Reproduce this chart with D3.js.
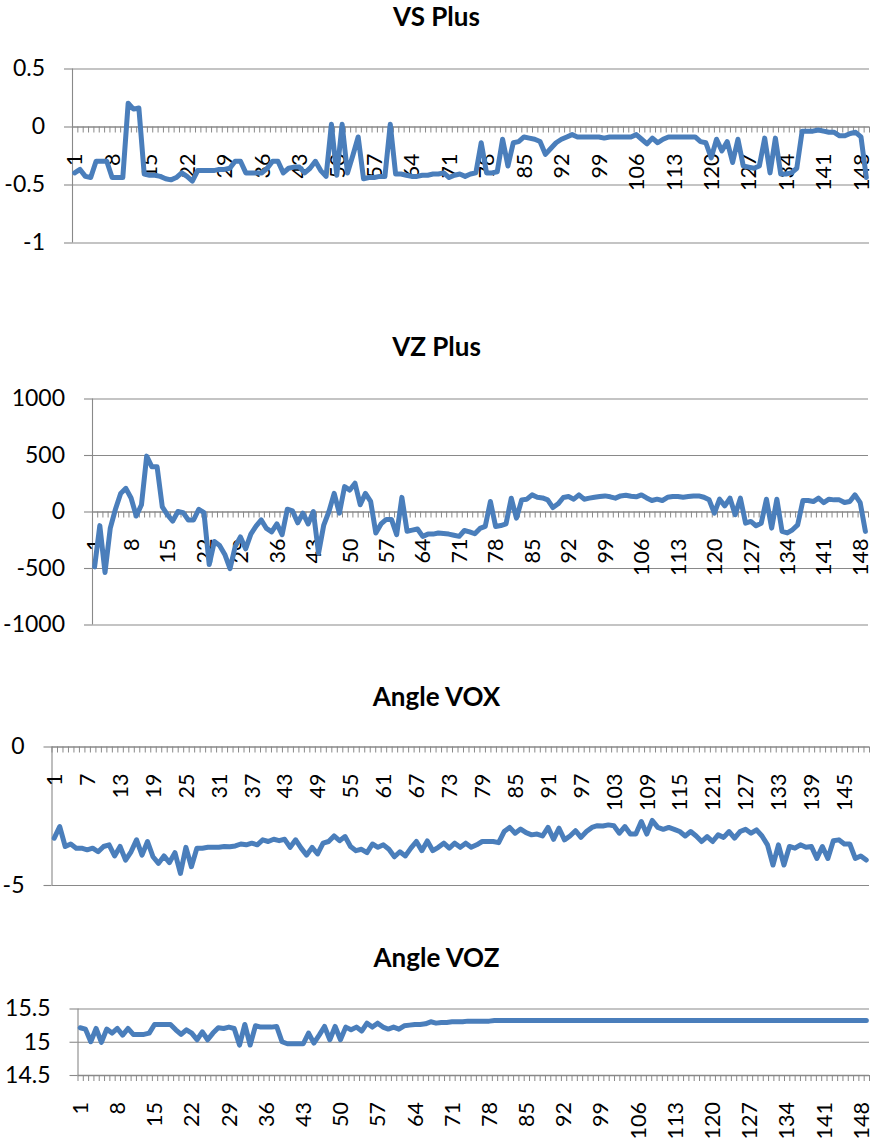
<!DOCTYPE html>
<html><head><meta charset="utf-8">
<script src="https://cdn.jsdelivr.net/npm/d3@7/dist/d3.min.js"></script>
<style>
body{margin:0;background:#fff;}
svg{display:block;}
text{font-family:Lato,"Open Sans",sans-serif;fill:#000;}
</style></head><body>
<div id="chart"></div>
<script>
// ---------- DATA ----------
const categories = d3.range(1, 150); // 1..149

const labelsEvery7 = [1,8,15,22,29,36,43,50,57,64,71,78,85,92,99,106,113,120,127,134,141,148];
const labelsEvery6 = [1,7,13,19,25,31,37,43,49,55,61,67,73,79,85,91,97,103,109,115,121,127,133,139,145];

const vsTicks  = [-1, -0.5, 0, 0.5];
const vzTicks  = [-1000, -500, 0, 500, 1000];
const voxTicks = [-5, 0];
const vozTicks = [14.5, 15, 15.5];

const vsPlus = [
-0.40,-0.37,-0.43,-0.44,-0.30,-0.30,-0.30,-0.44,-0.44,-0.44,
0.20,0.15,0.16,-0.41,-0.42,-0.42,-0.43,-0.45,-0.46,-0.44,
-0.40,-0.43,-0.47,-0.38,-0.38,-0.38,-0.38,-0.37,-0.37,-0.36,
-0.30,-0.30,-0.40,-0.40,-0.40,-0.40,-0.36,-0.30,-0.30,-0.40,
-0.36,-0.35,-0.35,-0.40,-0.36,-0.30,-0.38,-0.43,0.02,-0.42,
0.02,-0.40,-0.25,-0.09,-0.45,-0.44,-0.44,-0.43,-0.43,0.02,
-0.41,-0.41,-0.42,-0.43,-0.43,-0.42,-0.42,-0.41,-0.41,-0.40,
-0.44,-0.42,-0.41,-0.43,-0.41,-0.40,-0.14,-0.40,-0.40,-0.39,
-0.11,-0.34,-0.14,-0.13,-0.09,-0.10,-0.11,-0.13,-0.24,-0.19,
-0.14,-0.11,-0.09,-0.07,-0.09,-0.09,-0.09,-0.09,-0.09,-0.10,
-0.09,-0.09,-0.09,-0.09,-0.09,-0.07,-0.11,-0.15,-0.10,-0.14,
-0.11,-0.09,-0.09,-0.09,-0.09,-0.09,-0.09,-0.13,-0.14,-0.27,
-0.11,-0.21,-0.13,-0.31,-0.11,-0.34,-0.35,-0.36,-0.34,-0.10,
-0.40,-0.10,-0.41,-0.41,-0.40,-0.36,-0.04,-0.04,-0.04,-0.03,
-0.04,-0.05,-0.05,-0.08,-0.08,-0.06,-0.05,-0.09,-0.44
];

const vzPlus = [
-490,-125,-540,-150,20,160,205,120,-40,60,
490,395,395,40,-30,-85,0,-10,-75,-75,
20,-10,-470,-265,-300,-380,-505,-310,-225,-330,
-200,-130,-75,-150,-180,-110,-205,20,5,-100,
-15,-110,0,-370,-120,0,160,-15,220,190,
250,60,160,90,-190,-110,-70,-70,-205,125,
-175,-165,-155,-220,-200,-200,-190,-195,-200,-210,
-220,-168,-180,-197,-150,-132,88,-132,-124,-109,
118,-59,103,109,147,126,120,103,35,68,
124,132,109,147,109,118,126,132,138,130,
118,138,144,135,130,147,120,97,109,97,
126,132,132,126,132,138,138,126,103,-15,
109,50,118,-29,118,-103,-88,-126,-103,109,
-147,109,-176,-190,-162,-118,97,97,88,118,
79,109,103,103,79,88,147,79,-176
];

const angleVOX = [
-3.31,-2.89,-3.61,-3.52,-3.67,-3.67,-3.73,-3.67,-3.80,-3.61,
-3.55,-3.95,-3.61,-4.10,-3.80,-3.37,-3.92,-3.43,-3.98,-4.22,
-3.95,-4.19,-3.83,-4.58,-3.64,-4.34,-3.67,-3.67,-3.64,-3.64,
-3.64,-3.61,-3.62,-3.59,-3.52,-3.55,-3.49,-3.55,-3.37,-3.43,
-3.35,-3.40,-3.35,-3.64,-3.37,-3.67,-3.92,-3.64,-3.88,-3.49,
-3.43,-3.23,-3.40,-3.25,-3.61,-3.76,-3.71,-3.83,-3.52,-3.64,
-3.55,-3.71,-3.98,-3.80,-3.95,-3.67,-3.43,-3.76,-3.41,-3.76,
-3.64,-3.49,-3.67,-3.49,-3.64,-3.49,-3.64,-3.55,-3.43,-3.43,
-3.43,-3.47,-3.07,-2.92,-3.13,-2.98,-3.11,-3.19,-3.16,-3.23,
-2.92,-3.35,-2.95,-3.37,-3.23,-3.04,-3.28,-3.07,-2.92,-2.86,
-2.87,-2.83,-2.86,-3.13,-2.89,-3.16,-3.16,-2.71,-3.16,-2.67,
-2.92,-2.99,-2.92,-2.99,-3.07,-3.23,-3.07,-3.23,-3.43,-3.25,
-3.43,-3.19,-3.28,-3.07,-3.31,-3.07,-2.99,-3.13,-3.01,-3.23,
-3.55,-4.28,-3.55,-4.28,-3.61,-3.67,-3.55,-3.64,-3.61,-4.04,
-3.61,-4.04,-3.40,-3.37,-3.52,-3.52,-4.04,-3.95,-4.10
];

const angleVOZ = [
15.21,15.19,15.00,15.20,14.99,15.19,15.13,15.20,15.10,15.20,
15.11,15.11,15.11,15.13,15.26,15.26,15.26,15.26,15.18,15.11,
15.18,15.13,15.03,15.15,15.03,15.13,15.21,15.20,15.22,15.20,
14.95,15.26,14.95,15.24,15.22,15.22,15.22,15.23,15.00,14.97,
14.97,14.97,14.97,15.13,14.98,15.10,15.23,15.03,15.23,15.03,
15.22,15.18,15.22,15.16,15.28,15.22,15.28,15.22,15.19,15.22,
15.19,15.24,15.25,15.26,15.26,15.27,15.30,15.28,15.29,15.29,
15.30,15.30,15.30,15.31,15.31,15.31,15.31,15.31,15.32,15.32,
15.32,15.32,15.32,15.32,15.32,15.32,15.32,15.32,15.32,15.32,
15.32,15.32,15.32,15.32,15.32,15.32,15.32,15.32,15.32,15.32,
15.32,15.32,15.32,15.32,15.32,15.32,15.32,15.32,15.32,15.32,
15.32,15.32,15.32,15.32,15.32,15.32,15.32,15.32,15.32,15.32,
15.32,15.32,15.32,15.32,15.32,15.32,15.32,15.32,15.32,15.32,
15.32,15.32,15.32,15.32,15.32,15.32,15.32,15.32,15.32,15.32,
15.32,15.32,15.32,15.32,15.32,15.32,15.32,15.32,15.32
];

// ---------- LAYOUT ----------
const W = 877, H = 1143;
const GRID = "#898989", LINE = "#4a7ebb";

const panels = [
  {title:"VS Plus",  values:vsPlus,  ticks:vsTicks,  labels:labelsEvery7, titleY:26,  x0:72,   x1:869, yTop:68.5,  yBot:242.5, cross:0},
  {title:"VZ Plus",  values:vzPlus,  ticks:vzTicks,  labels:labelsEvery7, titleY:356, x0:92,   x1:868, yTop:398.5, yBot:624.5, cross:0},
  {title:"Angle VOX",values:angleVOX,ticks:voxTicks, labels:labelsEvery6, titleY:706, x0:51.5, x1:869, yTop:746.5, yBot:885,   cross:0},
  {title:"Angle VOZ",values:angleVOZ,ticks:vozTicks, labels:labelsEvery7, titleY:967, x0:77.5, x1:869, yTop:1008.5,yBot:1075,  cross:14.5}
];

const svg = d3.select("#chart").append("svg").attr("width", W).attr("height", H);

panels.forEach(p => {
  const g = svg.append("g");
  const y = d3.scaleLinear().domain(d3.extent(p.ticks)).range([p.yBot, p.yTop]);
  const xb = d3.scaleBand().domain(categories).range([p.x0, p.x1]).paddingInner(0).paddingOuter(0);
  const xBound = d3.scaleLinear().domain([0, categories.length]).range([p.x0, p.x1]);
  const cx = c => xb(c) + xb.bandwidth() / 2;

  // title
  g.append("text").attr("x", 436.5).attr("y", p.titleY)
    .attr("text-anchor", "middle").style("font-weight", "bold").style("font-size", "26px")
    .text(p.title);

  // gridlines
  const grid = g.append("g").attr("transform", `translate(${p.x0},0)`)
    .call(d3.axisLeft(y).tickValues(p.ticks.filter(t => t !== p.cross)).tickSize(-(p.x1 - p.x0)).tickFormat(""));
  grid.select(".domain").remove();
  grid.selectAll("line").attr("stroke", GRID).attr("stroke-width", 1.1);

  // y axis
  const ya = g.append("g").attr("transform", `translate(${p.x0},0)`)
    .call(d3.axisLeft(y).tickValues(p.ticks).tickSize(8).tickPadding(19).tickFormat(d => String(d)));
  ya.select(".domain").attr("stroke", GRID).attr("stroke-width", 1.1).attr("d", `M0.5,${p.yTop}V${p.yBot}`);
  ya.selectAll(".tick line").attr("stroke", GRID).attr("stroke-width", 1.1);
  ya.selectAll(".tick text").style("font-size", "23px").style("font-family", "Lato").attr("fill", "#000");

  // x axis (category ticks at boundaries)
  const axY = y(p.cross);
  const xa = g.append("g").attr("transform", `translate(0,${axY})`)
    .call(d3.axisBottom(xBound).tickValues(d3.range(0, categories.length + 1)).tickSize(6).tickFormat(""));
  xa.select(".domain").attr("stroke", GRID).attr("stroke-width", 1.3).attr("d", `M${p.x0},0.5H${p.x1}`);
  xa.selectAll(".tick line").attr("stroke", GRID).attr("stroke-width", 1);

  // category labels
  g.append("g").selectAll("text").data(p.labels).join("text")
    .attr("transform", d => `translate(${cx(d)},${axY + 27}) rotate(-90)`)
    .attr("text-anchor", "end").attr("dy", "0.36em")
    .style("font-size", "21.5px")
    .text(d => d);

  // series line
  const line = d3.line().x((d, i) => cx(categories[i])).y(d => y(d));
  g.append("path").datum(p.values).attr("d", line)
    .attr("fill", "none").attr("stroke", LINE).attr("stroke-width", 5)
    .attr("stroke-linejoin", "round").attr("stroke-linecap", "round");
});
</script>
</body></html>
